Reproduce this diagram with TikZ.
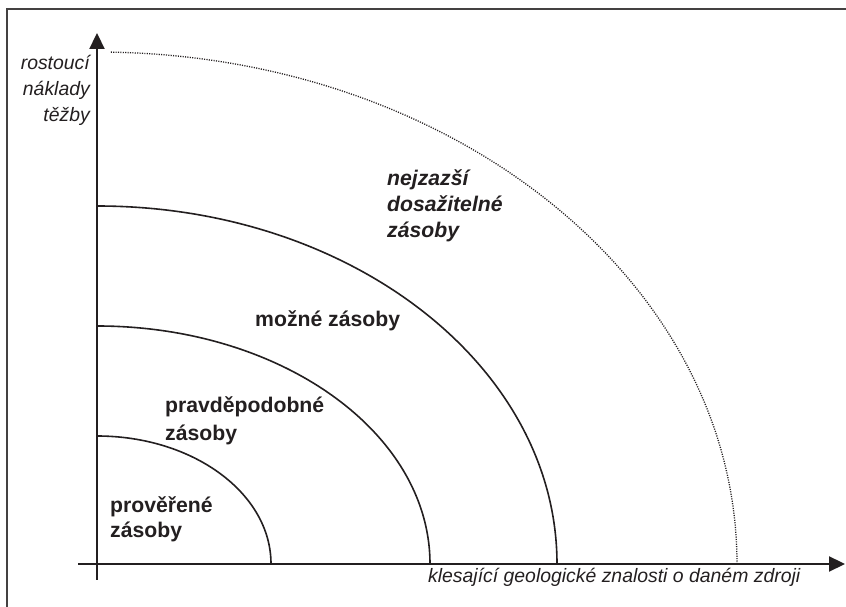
\documentclass[tikz,border=0pt]{standalone}
\usepackage{fontspec}
\setmainfont{Liberation Sans}
\usetikzlibrary{arrows.meta}
\definecolor{ink}{RGB}{35,31,32}
\tikzset{
  frameline/.style={line width=1.3pt, draw=ink!85},
  axisline/.style={line width=2.2pt, draw=ink, -{Triangle[length=16pt,width=15pt]}},
  arcline/.style={line width=1.6pt, draw=ink},
  dotline/.style={line width=1.3pt, draw=ink, dash pattern=on 1.1pt off 1.3pt},
  axlabel/.style={inner sep=0pt, text=ink, font=\fontsize{19.4}{23}\selectfont\itshape},
  zlabel/.style={inner sep=0pt, text=ink, font=\fontsize{21.2}{25}\selectfont\bfseries, anchor=base west},
  zilabel/.style={zlabel, font=\fontsize{21.2}{25}\selectfont\bfseries\itshape}
}
\begin{document}
\begin{tikzpicture}[x=1pt,y=1pt]
\useasboundingbox (0,0) rectangle (846,607);
% frame
\coordinate (fbl) at (7,0);
\coordinate (ftl) at (7,598);
\coordinate (ftr) at (846,598);
\draw[frameline] (fbl) -- (ftl) -- (ftr);
% axes
\coordinate (O) at (97,43);
\coordinate (ybot) at (97,27);
\coordinate (ytop) at (97,574);
\coordinate (xleft) at (78,43);
\coordinate (xright) at (845,43);
\draw[axisline] (ybot) -- (ytop);
\draw[axisline] (xleft) -- (xright);
% arcs
\draw[arcline] (271,43) arc[start angle=0, end angle=90, x radius=174, y radius=128];
\draw[arcline] (430,43) arc[start angle=0, end angle=90, x radius=333, y radius=238];
\draw[arcline] (557,43) arc[start angle=0, end angle=90, x radius=460, y radius=358];
\draw[dotline] (737,43) arc[start angle=0, end angle=88.8, x radius=640, y radius=512];
% axis labels
\node[axlabel, anchor=base east] (y1) at (90,537) {rostoucí};
\node[axlabel, anchor=base east] (y2) at (90,511) {náklady};
\node[axlabel, anchor=base east] (y3) at (90,485) {těžby};
\node[axlabel, anchor=base west] (xl) at (428,24) {klesající geologické znalosti o daném zdroji};
% zone labels
\node[zilabel] (n1) at (387,421) {nejzazší};
\node[zilabel] (n2) at (387,395) {dosažitelné};
\node[zilabel] (n3) at (387,369) {zásoby};
\node[zlabel] (m1) at (255,280) {možné zásoby};
\node[zlabel] (p1) at (165,194) {pravděpodobné};
\node[zlabel] (p2) at (165,166) {zásoby};
\node[zlabel] (v1) at (110,94) {prověřené};
\node[zlabel] (v2) at (110,69) {zásoby};
\end{tikzpicture}
\end{document}
